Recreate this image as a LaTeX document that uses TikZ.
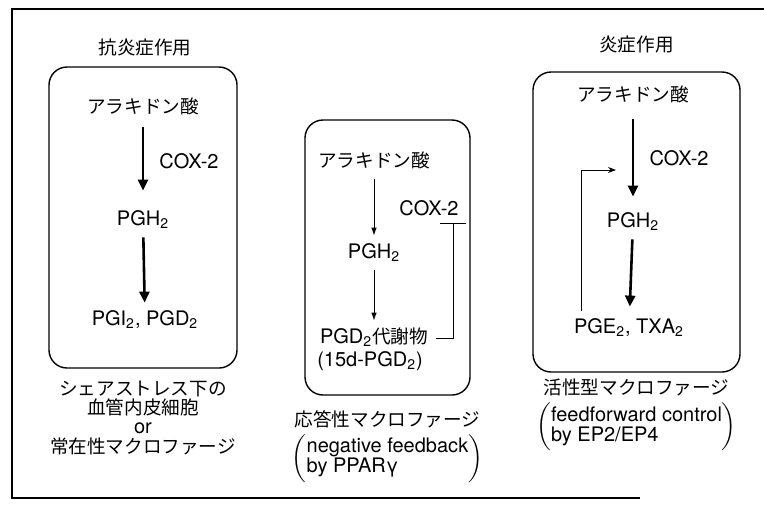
\documentclass[tikz,border=0pt]{standalone}
\usepackage{fontspec}
\setmainfont{TeX Gyre Heros}
\newfontfamily\jp[Scale=0.93]{Noto Sans CJK JP}
\usepackage{tikz}
\usetikzlibrary{arrows.meta, positioning}

\begin{document}
\begin{tikzpicture}[
    x=0.5pt, y=-0.5pt,
    node distance=6pt,
    >=Latex,
    quadro/.style={
        rectangle,
        rounded corners=9pt,
        draw,
        line width=0.7pt
    },
    texto/.style={
        inner sep=4pt,
        text height=7pt,
        text depth=2pt,
        font=\fontsize{10}{10}\selectfont
    },
    rotulo/.style={
        inner sep=0pt,
        align=center,
        font=\fontsize{10}{9.6}\selectfont
    },
    seta/.style={-{Triangle[length=5.5pt, width=5pt]}, line width=1.3pt},
    setafina/.style={-{Latex[length=4pt, width=2.8pt]}, line width=0.5pt},
    retro/.style={-{Stealth[length=4pt, width=3pt]}, line width=0.5pt},
    inibe/.style={-{Bar[width=13pt]}, line width=0.5pt}
]

\useasboundingbox (0,0) rectangle (764,505);
\draw[line width=0.8pt] (764,9) -- (12,9) -- (12,498) -- (640,498);

% painel esquerdo
\node[quadro, minimum width=94pt, minimum height=150.5pt] (q1) at (143,217.5) {};
\node[rotulo, above=5pt of q1, xshift=1pt] (t1) {\jp 抗炎症作用};
\node[texto] (a1) at (143,108) {\jp アラキドン酸};
\node[texto] (c1) at (189,163) {COX-2};
\node[texto] (h1) at (143,220) {PGH\textsubscript{2}};
\node[texto] (e1) at (145,320) {PGI\textsubscript{2}, PGD\textsubscript{2}};
\node[rotulo, below=6pt of q1] (r1) {{\jp シェアストレス下の}\\{\jp 血管内皮細胞}\\or\\{\jp 常在性マクロファージ}};

\draw[seta, shorten <=1pt, shorten >=6pt] (a1) -- (h1);
\draw[seta] (h1) -- (e1);

% painel do meio
\node[quadro, minimum width=82.5pt, minimum height=137.5pt] (q2) at (387.5,257.5) {};
\node[texto] (a2) at (374,162) {\jp アラキドン酸};
\node[texto] (c2) at (429,210) {COX-2};
\node[texto] (h2) at (374,253) {PGH\textsubscript{2}};
\node[texto] (m2) at (374,338) {PGD\textsubscript{2}{\jp 代謝物}};
\node[texto] (d2) at (370,361) {(15d-PGD\textsubscript{2})};
\node[rotulo, below=7pt of q2] (r2) {\jp 応答性マクロファージ};
\node[rotulo, below=3pt of r2] (p2) {$\biggl(\begin{tabular}{@{}l@{}}negative feedback\\by PPARγ\end{tabular}\biggr)$};

\coordinate (barra) at (453,223);
\draw[setafina] (a2) -- (h2);
\draw[setafina] (h2) -- (m2);
\draw[inibe] (m2.east) -| (barra);

% painel direito
\node[quadro, minimum width=103.5pt, minimum height=150pt] (q3) at (636.5,222) {};
\node[rotulo, above=9pt of q3] (t3) {\jp 炎症作用};
\node[texto] (a3) at (633,96) {\jp アラキドン酸};
\node[texto] (c3) at (679,160) {COX-2};
\node[texto] (h3) at (633,222) {PGH\textsubscript{2}};
\node[texto] (e3) at (629,328) {PGE\textsubscript{2}, TXA\textsubscript{2}};
\node[rotulo, below=3pt of q3] (r3) {\jp 活性型マクロファージ};
\node[rotulo, below=3pt of r3] (p3) {$\biggl(\begin{tabular}{@{}l@{}}feedforward control\\by EP2/EP4\end{tabular}\biggr)$};

\coordinate (fbfim) at (616,170);
\draw[seta, shorten <=3pt, shorten >=4pt] (a3) -- (h3);
\draw[seta, shorten >=2pt] (h3) -- (e3);
\draw[retro] ([xshift=8pt]e3.north west) |- (fbfim);

\end{tikzpicture}
\end{document}
